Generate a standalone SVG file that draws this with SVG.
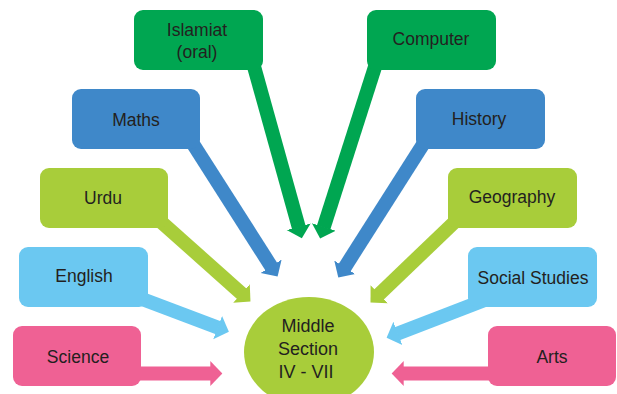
<svg xmlns="http://www.w3.org/2000/svg" width="617" height="394" viewBox="0 0 617 394">
<style>
text{font-family:"Liberation Sans",Arial,sans-serif;font-size:17.5px;fill:#231f20;text-anchor:middle}
.c{font-size:18px}
.sh{fill:none;stroke-width:14;stroke-linecap:butt}
.g{fill:#00a651}.b{fill:#3f88c9}.l{fill:#a8cd3a}.s{fill:#6bc8f1}.p{fill:#ef6194}
</style>
<defs>
<marker id="mg" viewBox="0 -1 1 2" refX="0.05" refY="0" markerWidth="1" markerHeight="2" markerUnits="strokeWidth" orient="auto"><path d="M0,-0.89L0.86,0L0,0.89z" fill="#00a651"/></marker>
<marker id="mb" viewBox="0 -1 1 2" refX="0.05" refY="0" markerWidth="1" markerHeight="2" markerUnits="strokeWidth" orient="auto"><path d="M0,-0.89L0.86,0L0,0.89z" fill="#3f88c9"/></marker>
<marker id="ml" viewBox="0 -1 1 2" refX="0.05" refY="0" markerWidth="1" markerHeight="2" markerUnits="strokeWidth" orient="auto"><path d="M0,-0.89L0.86,0L0,0.89z" fill="#a8cd3a"/></marker>
<marker id="ms" viewBox="0 -1 1 2" refX="0.05" refY="0" markerWidth="1" markerHeight="2" markerUnits="strokeWidth" orient="auto"><path d="M0,-0.89L0.86,0L0,0.89z" fill="#6bc8f1"/></marker>
<marker id="mp" viewBox="0 -1 1 2" refX="0.05" refY="0" markerWidth="1" markerHeight="2" markerUnits="strokeWidth" orient="auto"><path d="M0,-0.89L0.86,0L0,0.89z" fill="#ef6194"/></marker>
</defs>
<g id="connectors">
<line class="sh" stroke="#00a651" marker-end="url(#mg)" x1="252.2" y1="60" x2="298.8" y2="227.4"/>
<line class="sh" stroke="#00a651" marker-end="url(#mg)" x1="377.2" y1="60" x2="323.6" y2="227.6"/>
<line class="sh" stroke="#3f88c9" marker-end="url(#mb)" x1="189.7" y1="138.8" x2="271.5" y2="266.9"/>
<line class="sh" stroke="#3f88c9" marker-end="url(#mb)" x1="426.3" y1="139.3" x2="344.4" y2="267.9"/>
<line class="sh" stroke="#a8cd3a" marker-end="url(#ml)" x1="157" y1="218.2" x2="242" y2="294"/>
<line class="sh" stroke="#a8cd3a" marker-end="url(#ml)" x1="458.8" y1="218" x2="378.7" y2="294.7"/>
<line class="sh" stroke="#6bc8f1" marker-end="url(#ms)" x1="137.5" y1="297.2" x2="218.3" y2="327.8"/>
<line class="sh" stroke="#6bc8f1" marker-end="url(#ms)" x1="486.7" y1="299.3" x2="397.2" y2="333.7"/>
<line class="sh" stroke="#ef6194" marker-end="url(#mp)" x1="130" y1="373.5" x2="211" y2="373.5"/>
<line class="sh" stroke="#ef6194" marker-end="url(#mp)" x1="500" y1="373.5" x2="403" y2="373.5"/>
</g>
<g id="islamiat"><rect class="g" x="134" y="10" width="129" height="60" rx="9"/><text x="197" y="36">Islamiat</text><text x="197" y="58">(oral)</text></g>
<g id="computer"><rect class="g" x="367" y="10" width="129" height="60" rx="9"/><text x="431" y="45">Computer</text></g>
<g id="maths"><rect class="b" x="72" y="89" width="128" height="60" rx="9"/><text x="136" y="126">Maths</text></g>
<g id="history"><rect class="b" x="416" y="89" width="129" height="60" rx="9"/><text x="479" y="125">History</text></g>
<g id="urdu"><rect class="l" x="40" y="168" width="128" height="60" rx="9"/><text x="103" y="204">Urdu</text></g>
<g id="geography"><rect class="l" x="448" y="168" width="129" height="60" rx="9"/><text x="512" y="203">Geography</text></g>
<g id="english"><rect class="s" x="19" y="247" width="129" height="60" rx="9"/><text x="84" y="282">English</text></g>
<g id="social-studies"><rect class="s" x="468" y="247" width="129" height="60" rx="9"/><text x="533" y="284">Social Studies</text></g>
<g id="science"><rect class="p" x="13" y="326" width="128" height="60" rx="9"/><text x="78" y="363">Science</text></g>
<g id="arts"><rect class="p" x="488" y="326" width="128" height="60" rx="9"/><text x="552" y="363">Arts</text></g>
<g id="middle-section"><ellipse class="l" cx="309" cy="352" rx="65" ry="55"/><text class="c" x="308" y="332">Middle</text><text class="c" x="308" y="355">Section</text><text class="c" x="306" y="378">IV - VII</text></g>
</svg>
